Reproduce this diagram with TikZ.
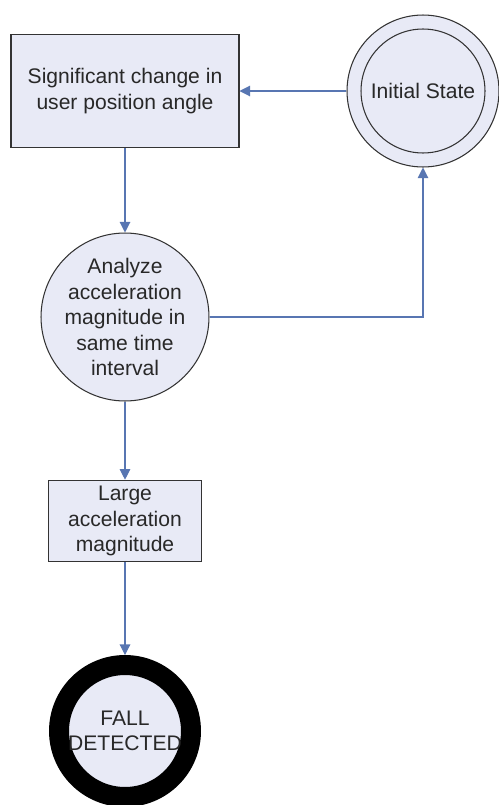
\documentclass[tikz,border=0pt]{standalone}
\usepackage{fontspec}
\setmainfont{Liberation Sans}
\usetikzlibrary{arrows.meta}
\definecolor{boxfill}{RGB}{232,234,246}
\definecolor{flowblue}{RGB}{88,118,178}
\definecolor{textgray}{RGB}{40,40,40}
\begin{document}
\begin{tikzpicture}[x=0.02cm, y=-0.02cm,
        action/.style={rectangle, draw=black!80, semithick, fill=boxfill, align=center, text=textgray, font=\fontsize{12}{14.5}\selectfont},
        state/.style={circle, draw=black!80, semithick, fill=boxfill, align=center, text=textgray, inner sep=0pt, font=\fontsize{12}{14.5}\selectfont},
        flow/.style={flowblue, semithick, -{Triangle[length=6pt, width=6pt]}}]
            \useasboundingbox (0,0) rectangle (499,805);
            \node[action, minimum width=4.56cm, minimum height=2.26cm] (angle) at (125,91) {Significant change in\\user position angle};
            \node[state, minimum size=3.04cm] (init) at (423,91) {};
            \node[state, minimum size=2.48cm] (initin) at (init) {Initial State};
            \node[state, minimum size=3.04cm] (analyze) at (125,317) {Analyze\\acceleration\\magnitude in\\same time\\interval};
            \node[action, minimum width=3.06cm, minimum height=1.52cm] (large) at (125,521) {Large\\acceleration\\magnitude};
            \node[state, draw=black, line width=0.4cm, minimum size=2.64cm] (fall) at (125,731) {FALL\\DETECTED};
            \draw[flow] (init.west) -- (angle.east);
            \draw[flow] (angle.south) -- (analyze.north);
            \draw[flow] (analyze.east) -| (init.south);
            \draw[flow] (analyze.south) -- (large.north);
            \draw[flow] (large.south) -- (fall.north);
\end{tikzpicture}
\end{document}
